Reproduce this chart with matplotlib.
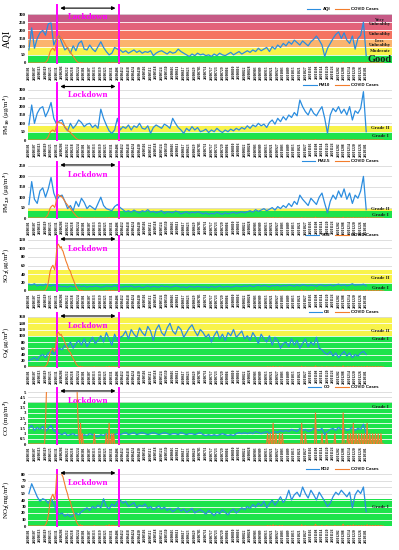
import numpy as np
import pandas as pd
import matplotlib
matplotlib.use("Agg")
import matplotlib.pyplot as plt
from matplotlib.lines import Line2D

plt.rcParams['font.family'] = ['Liberation Serif', 'DejaVu Serif']
plt.rcParams['font.weight'] = 'bold'
plt.rcParams['mathtext.fontset'] = 'stix'
plt.rcParams['mathtext.default'] = 'bf'

# readings every 3 days, day 0 = 2020-01-01
day = np.arange(0, 369, 3)

aqi = [80, 215, 90, 150, 185, 200, 170, 240, 245, 110, 150,
       165, 120, 80, 95, 60, 105, 75, 120, 135, 85, 80, 110, 85, 70, 100, 130, 95, 70, 50, 60, 95, 85, 80,
       65, 75, 60, 70, 80, 65, 75, 60, 70, 65, 75, 45, 60, 70, 75, 65, 55, 70, 60, 65, 85, 70, 60, 50, 40, 55, 45, 60, 50,
       55, 45, 50, 40, 55, 45, 60, 50, 45, 55, 65, 50, 60, 70, 55, 65,
       75, 65, 80, 70, 90, 75, 85, 95, 70, 100, 85, 110, 95, 120,
       105, 130, 115, 140, 125, 110, 135, 120, 105, 130, 145, 165, 140, 110, 40,
       90, 120, 150, 175, 190, 150, 185, 140, 120, 165, 85, 150, 170, 250, 45]

pm10 = [90, 210, 100, 160, 190, 200, 140, 175, 225, 130, 95,
        115, 120, 75, 55, 100, 70, 90, 120, 105, 80, 95, 100, 75, 90, 70, 185, 130, 90, 55, 40, 60, 130, 60,
        80, 70, 90, 60, 85, 75, 100, 70, 65, 85, 40, 75, 90, 80, 70, 95, 85, 70, 130, 100, 75, 60, 40, 70, 55, 80, 60, 75, 50,
        55, 65, 45, 60, 50, 70, 55, 45, 60, 50, 65, 55, 70, 60, 75, 65,
        85, 70, 90, 80, 100, 85, 95, 75, 105, 120, 95, 130, 110, 140,
        120, 150, 135, 165, 145, 240, 200, 170, 150, 190, 160, 145, 175, 200, 130,
        40, 150, 190, 170, 200, 160, 185, 150, 200, 120, 175, 160, 190, 290, 50]

pm25 = [65, 175, 90, 70, 130, 145, 100, 140, 195, 120, 85,
        105, 110, 80, 45, 60, 35, 80, 55, 95, 75, 45, 60, 50, 40, 70, 100, 60, 45, 40, 35, 55, 65, 50,
        40, 30, 35, 28, 38, 30, 25, 35, 30, 40, 28, 32, 25, 30, 35, 22, 30, 28, 25, 33, 30, 20, 25, 30, 22, 28, 25, 30, 26,
        20, 25, 18, 22, 20, 28, 22, 18, 25, 20, 24, 28, 22, 26, 30, 25,
        30, 35, 28, 40, 32, 38, 45, 35, 42, 50, 38, 55, 45, 60,
        50, 70, 55, 80, 65, 110, 90, 75, 60, 95, 80, 65, 100, 120, 70,
        25, 80, 110, 90, 130, 100, 140, 90, 120, 70, 110, 95, 130, 200, 40]

so2 = [16, 14, 17, 12, 15, 13, 16, 14, 12, 15, 11,
       12, 10, 11, 9, 12, 10, 11, 13, 10, 12, 9, 11, 10, 12, 11, 9, 10, 12, 11, 10, 13, 11, 10,
       9, 11, 10, 12, 9, 10, 11, 8, 10, 12, 9, 11, 10, 9, 12, 10, 11, 9, 10, 12, 11, 9, 10, 8, 11, 10, 9, 11, 10,
       9, 10, 8, 11, 9, 10, 12, 9, 10, 11, 9, 10, 12, 11, 10, 12,
       11, 13, 10, 12, 14, 11, 13, 12, 10, 13, 12, 14, 11, 13,
       12, 14, 13, 11, 14, 12, 15, 13, 12, 14, 13, 11, 15, 14, 12,
       13, 15, 12, 14, 16, 13, 15, 12, 14, 17, 13, 15, 14, 16, 12]

o3 = [20, 25, 30, 22, 35, 40, 30, 45, 50, 40, 55,
      60, 55, 70, 65, 80, 60, 75, 85, 70, 90, 65, 80, 95, 75, 85, 100, 80, 110, 90, 70, 105, 85, 95,
      100, 115, 90, 120, 105, 95, 125, 110, 100, 130, 115, 85, 120, 135, 110, 100, 125, 140, 115, 105, 130, 120, 95, 110, 125, 135, 115, 100, 120,
      110, 95, 105, 80, 100, 115, 90, 105, 85, 110, 100, 120, 95, 105, 115, 90,
      100, 85, 110, 95, 75, 105, 90, 80, 100, 70, 95, 85, 60, 75,
      80, 65, 90, 70, 85, 60, 75, 90, 65, 80, 70, 95, 60, 55, 45,
      40, 50, 35, 45, 30, 40, 50, 35, 45, 30, 40, 35, 45, 50, 40]

co = [1.5, 1.8, 1.3, 1.6, 1.4, 1.7, 1.2, 1.5, 1.8, 1.3, 1.1,
      1.0, 0.9, 1.1, 0.8, 0.9, 1.0, 0.8, 0.9, 0.7, 0.9, 0.8, 1.0, 0.9, 0.8, 0.7, 0.9, 0.8, 1.0, 0.9, 0.8, 0.9, 1.0, 0.9,
      1.0, 1.1, 0.9, 1.0, 1.1, 0.9, 1.0, 1.1, 1.0, 0.9, 1.0, 1.1, 1.0, 0.9, 1.0, 1.1, 1.0, 0.9, 1.0, 1.0, 0.9, 1.1, 1.0, 0.9, 1.0, 1.0, 0.9, 1.0, 1.1,
      0.9, 0.8, 0.9, 0.8, 0.9, 0.8, 0.9, 1.0, 0.9, 0.8, 0.9, 0.8, 1.0, 1.1, 1.0, 1.1,
      1.0, 1.1, 1.0, 1.2, 1.1, 1.0, 1.1, 1.2, 1.0, 1.1, 1.2, 1.1, 1.3, 1.2,
      1.3, 1.2, 1.4, 1.3, 1.2, 1.5, 1.3, 1.4, 1.2, 1.3, 1.5, 1.4, 1.3, 1.5, 0.9,
      1.2, 1.4, 1.5, 1.3, 1.6, 1.4, 1.5, 1.3, 1.4, 1.6, 1.3, 1.5, 1.4, 1.9, 1.0]

no2 = [50, 65, 55, 45, 38, 42, 40, 35, 42, 35, 22,
       18, 20, 15, 18, 14, 16, 20, 17, 22, 25, 28, 24, 30, 27, 32, 28, 42, 30, 26, 34, 30, 38, 40,
       35, 38, 30, 33, 36, 28, 32, 30, 34, 27, 30, 25, 28, 31, 26, 29, 24, 27, 22, 25, 28, 23, 26, 21, 24, 27, 20, 23, 25,
       22, 18, 24, 20, 16, 22, 19, 25, 21, 17, 23, 26, 20, 24, 28, 25,
       30, 27, 33, 29, 35, 31, 38, 28, 34, 40, 32, 38, 45, 36,
       42, 55, 40, 48, 52, 45, 60, 50, 43, 55, 48, 40, 52, 45, 38,
       30, 35, 45, 52, 48, 55, 50, 45, 52, 28, 48, 55, 50, 60, 22]

# daily new COVID cases
wave_days = np.arange(17, 55)
wave_cases = [0, 2, 5, 10, 18, 30, 42, 48, 52, 55, 50, 45, 60, 85, 98, 100, 96, 92, 95, 88,
              85, 78, 72, 65, 60, 55, 48, 45, 42, 35, 30, 25, 20, 15, 10, 6, 3, 1]
spike_days = [56, 58, 71, 84, 87, 90, 92, 259, 262, 265, 268, 272, 275, 296, 300, 311, 318, 323,
              332, 341, 346, 349, 352, 355, 358, 361, 364, 367, 370, 373, 376, 379, 382]
spike_cases = [2, 1, 1, 1, 2, 1, 1, 1, 1, 2, 1, 1, 1, 2, 1, 3, 1, 1,
               1, 3, 1, 1, 2, 1, 1, 1, 1, 2, 1, 1, 1, 1, 1]
covid = np.zeros(386)
covid[wave_days] = wave_cases
covid[spike_days] = spike_cases

lock_start, lock_end = 30, 98

tick_days = np.arange(0, 367, 6)
tick_labels = pd.date_range('2020-01-01', periods=len(tick_days), freq='6D').strftime('%Y%m%d')

green, yellow = '#1de34b', '#f8f34a'
panels = [
    dict(y=aqi, name='AQI', ylabel='AQI', top=300, step=50, twin=182,
         bands=[(0, 50, green), (50, 100, yellow), (100, 150, '#fbb46e'), (150, 200, '#f57361'),
                (200, 250, '#e3627a'), (250, 300, '#c65a86')],
         notes=[('Very\nUnhealthy', 252, 3.6), ('Unhealthy', 178, 3.6), ('Less\nUnhealthy', 124, 3.6),
                ('Moderate', 74, 3.6), ('Good', 22, 7.5)],
         rect=(14, 63), arr=(1.12, 1.03)),
    dict(y=pm10, name='PM10', ylabel=r'PM$_{10}$ (μg/m$^{3}$)', top=300, step=50, twin=273,
         bands=[(0, 50, green), (50, 85, yellow)], notes=[('Grade II', 72, 3.6), ('Grade I', 22, 3.6)],
         rect=(90, 140), arr=(1.07, 0.98)),
    dict(y=pm25, name='PM2.5', ylabel=r'PM$_{2.5}$ (μg/m$^{3}$)', top=250, step=50, twin=223,
         bands=[(0, 35, green), (35, 50, yellow)], notes=[('Grade II', 45, 3.6), ('Grade I', 14, 3.6)],
         rect=(166, 218), arr=(1.02, 0.9)),
    dict(y=so2, name='SO2', ylabel=r'SO$_{2}$(μg/m$^{3}$)', top=120, step=20, twin=109,
         bands=[(0, 20, green), (20, 50, yellow)], notes=[('Grade II', 30, 3.6), ('Grade I', 7, 3.6)],
         rect=(240, 291), arr=(1.02, 0.9)),
    dict(y=o3, name='O3', ylabel=r'O$_{3}$(μg/m$^{3}$)', top=160, step=20, twin=145,
         bands=[(0, 100, green), (100, 160, yellow)], notes=[('Grade II', 115, 3.6), ('Grade I', 88, 3.6)],
         rect=(317, 367), arr=(1.02, 0.9)),
    dict(y=co, name='CO', ylabel=r'CO (mg/m$^{3}$)', top=5, step=0.5, twin=5,
         bands=[(0, 4, green)], notes=[('Grade I', 3.6, 3.6)],
         rect=(392, 444), arr=(1.02, 0.9)),
    dict(y=no2, name='NO2', ylabel=r'NO$_{2}$(mg/m$^{3}$)', top=80, step=10, twin=90,
         bands=[(0, 41, green)], notes=[('Grade I', 29, 3.6)],
         rect=(474, 526), arr=(1.02, 0.9)),
]

W, H = 399, 550
fig = plt.figure(figsize=(W / 100, H / 100), dpi=100)
blue, orange = '#2b8ddf', '#f27d2c'

for p in panels:
    t, b = p['rect']
    ax = fig.add_axes([28 / W, 1 - b / H, 364 / W, (b - t) / H])
    ax.set_xlim(-1, 394)
    ax.set_ylim(0, p['top'])
    for lo, hi, c in p['bands']:
        ax.axhspan(lo, hi, color=c, lw=0, zorder=0)
    band_top = max(hi for lo, hi, c in p['bands'])
    yt = np.arange(0, p['top'] + p['step'] / 2, p['step'])
    for v in yt[1:]:
        ax.axhline(v, color='white' if v < band_top else '#d9d9d9', lw=0.6, zorder=0.5)
    ax.set_yticks(yt)
    ax.set_yticklabels(['%g' % v for v in yt], fontsize=3.4)
    ax.set_xticks(tick_days)
    ax.set_xticklabels(tick_labels, rotation=90, fontsize=2.6)
    ax.tick_params(length=0, pad=1.5)
    for s in ax.spines.values():
        s.set_visible(False)
    ax.set_ylabel(p['ylabel'], fontsize=7.5 if p['name'] == 'AQI' else 5.0)
    ax.yaxis.set_label_coords(-0.045, 0.5)
    ax.plot(day, p['y'], color=blue, lw=0.9, zorder=3)

    for txt, yv, fs in p['notes']:
        ax.text(381, yv, txt, fontsize=fs, ha='center', va='center', color='#1a1a1a',
                linespacing=0.9, zorder=4)

    ay, ty = p['arr']
    for d in (lock_start, lock_end):
        ax.axvline(d, ymin=0, ymax=ay + 0.06, color='#ff00ff', lw=1.4, clip_on=False, zorder=5)
    ax.annotate('', xy=(lock_start + 1, ay), xytext=(lock_end - 1, ay),
                xycoords=('data', 'axes fraction'), textcoords=('data', 'axes fraction'),
                arrowprops=dict(arrowstyle='<|-|>', color='black', lw=0.8, mutation_scale=5))
    ax.text((lock_start + lock_end) / 2, ty, 'Lockdown', transform=ax.get_xaxis_transform(),
            ha='center', va='top', color='#ff00ff', fontsize=6.5, zorder=6)

    # COVID cases on a hidden secondary axis, drawn above the pollutant line
    tw = ax.twinx()
    tw.plot(np.arange(len(covid)), covid, color=orange, lw=0.8)
    tw.set_ylim(0, p['twin'])
    tw.set_xlim(-1, 394)
    tw.axis('off')

    handles = [Line2D([], [], color=blue, lw=0.8), Line2D([], [], color=orange, lw=0.8)]
    ax.legend(handles, [p['name'], 'COVID Cases'], loc='lower right', bbox_to_anchor=(0.97, 1.0),
              ncol=2, frameon=False, handlelength=3, borderaxespad=0.2,
              columnspacing=1.2, handletextpad=0.5,
              prop={'family': 'Liberation Sans', 'size': 3.2})

fig.savefig('out.png', dpi=100)
